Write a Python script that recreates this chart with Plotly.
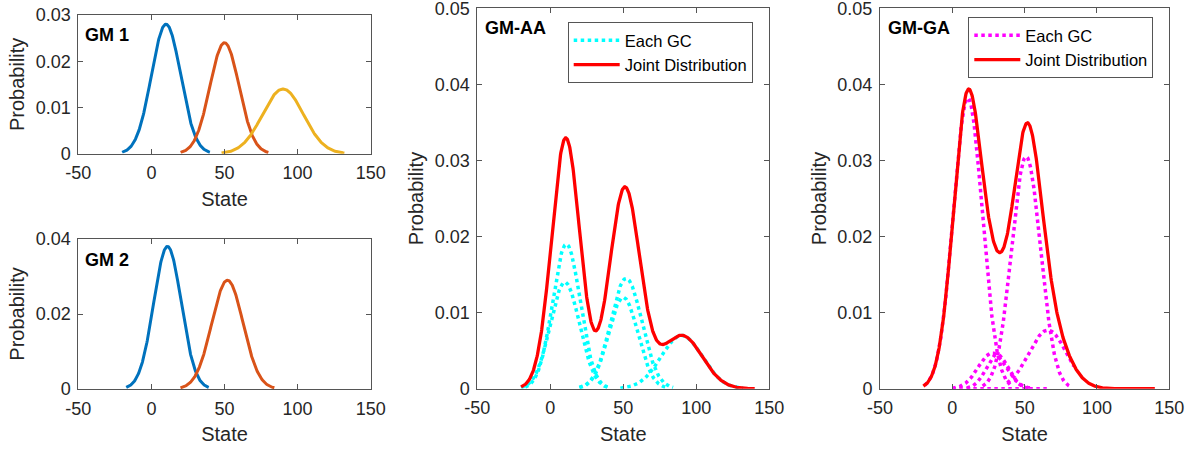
import numpy as np
import plotly.graph_objects as go

# ---------------------------------------------------------------
# Gaussian-mixture parameters (mean, standard deviation, peak density)
# ---------------------------------------------------------------
GM1_MEAN = [10, 50, 90]
GM1_SIGMA = [10, 10, 14]
GM1_PEAK = [0.028, 0.024, 0.014]

GM2_MEAN = [11, 52]
GM2_SIGMA = [9.4, 10.7]
GM2_PEAK = [0.038, 0.029]

# arithmetic-average fusion: each source mixture weighted equally
AA_WEIGHTS = [0.5, 0.5]

# geometric-average fusion components and the state range each one is drawn over
GA_MEAN = [10.7, 27.5, 31, 35, 51, 66]
GA_SIGMA = [10, 9.5, 7.5, 11, 10, 13]
GA_PEAK = [0.0382, 0.0047, 0.0045, 0.00004, 0.0305, 0.0077]
GA_LO = [-19, 0, 10, 0, 21, 38]
GA_HI = [41, 56, 54, 66, 81, 84]

# state range of the joint densities
JOINT_RANGE = [-20, 140]

# axis ticks
X_TICKS = [-50, 0, 50, 100, 150]
X_TICK_TEXT = ["-50", "0", "50", "100", "150"]
Y_TICKS_GM1 = [0, 0.01, 0.02, 0.03]
Y_TICKS_GM2 = [0, 0.02, 0.04]
Y_TICKS_FUSED = [0, 0.01, 0.02, 0.03, 0.04, 0.05]

MIX_COLORS = ["#0072BD", "#D95319", "#EDB120"]
AA_COLOR = "#00FFFF"
GA_COLOR = "#FF00FF"
JOINT_COLOR = "#FF0000"
TEXT_COLOR = "#262626"
LINE_COLOR = "#555555"
FONT = "Liberation Sans, Arial, Helvetica, sans-serif"

W, H = 1192, 450


def gauss(x, mu, sigma, peak):
    return peak * np.exp(-0.5 * ((x - mu) / sigma) ** 2)


def support(mu, sigma, n=240):
    return np.linspace(mu - 3 * sigma, mu + 3 * sigma, n)


fig = go.Figure()

# --- GM 1 and GM 2 panels -------------------------------------------------
for (means, sigmas, peaks, ax) in [(GM1_MEAN, GM1_SIGMA, GM1_PEAK, "1"),
                                   (GM2_MEAN, GM2_SIGMA, GM2_PEAK, "2")]:
    for i, (mu, sd, pk) in enumerate(zip(means, sigmas, peaks)):
        xs = support(mu, sd)
        fig.add_trace(go.Scatter(
            x=xs, y=gauss(xs, mu, sd, pk), mode="lines",
            line=dict(color=MIX_COLORS[i], width=3),
            xaxis="x" + ("" if ax == "1" else ax), yaxis="y" + ("" if ax == "1" else ax),
            showlegend=False, hoverinfo="skip"))

# --- GM-AA panel ------------------------------------------------------------
xj = np.linspace(JOINT_RANGE[0], JOINT_RANGE[1], 600)
aa_joint = np.zeros_like(xj)
first = True
for w, (means, sigmas, peaks) in zip(AA_WEIGHTS, [(GM1_MEAN, GM1_SIGMA, GM1_PEAK),
                                                  (GM2_MEAN, GM2_SIGMA, GM2_PEAK)]):
    for mu, sd, pk in zip(means, sigmas, peaks):
        xs = support(mu, sd)
        fig.add_trace(go.Scatter(
            x=xs, y=gauss(xs, mu, sd, w * pk), mode="lines",
            line=dict(color=AA_COLOR, width=3.5, dash="dot"),
            xaxis="x3", yaxis="y3", name="Each GC", legend="legend",
            showlegend=first, hoverinfo="skip"))
        first = False
        aa_joint += gauss(xj, mu, sd, w * pk)

fig.add_trace(go.Scatter(
    x=xj, y=aa_joint, mode="lines", line=dict(color=JOINT_COLOR, width=3.3),
    xaxis="x3", yaxis="y3", name="Joint Distribution", legend="legend",
    hoverinfo="skip"))

# --- GM-GA panel ------------------------------------------------------------
ga_joint = np.zeros_like(xj)
for i, (mu, sd, pk, lo, hi) in enumerate(zip(GA_MEAN, GA_SIGMA, GA_PEAK, GA_LO, GA_HI)):
    xs = np.linspace(lo, hi, 240)
    fig.add_trace(go.Scatter(
        x=xs, y=gauss(xs, mu, sd, pk), mode="lines",
        line=dict(color=GA_COLOR, width=3.5, dash="dot"),
        xaxis="x4", yaxis="y4", name="Each GC", legend="legend2",
        showlegend=(i == 0), hoverinfo="skip"))
    ga_joint += gauss(xj, mu, sd, pk)

fig.add_trace(go.Scatter(
    x=xj, y=ga_joint, mode="lines", line=dict(color=JOINT_COLOR, width=3.3),
    xaxis="x4", yaxis="y4", name="Joint Distribution", legend="legend2",
    hoverinfo="skip"))


# --- axes -----------------------------------------------------------------
def xdom(left, right):
    return [left / W, right / W]


def ydom(top, bottom):
    return [1 - bottom / H, 1 - top / H]


axis_common = dict(
    showline=True, linecolor=LINE_COLOR, linewidth=1, mirror="ticks",
    ticks="inside", ticklen=5, tickwidth=1, tickcolor=LINE_COLOR,
    showgrid=False, zeroline=False, automargin=False,
    tickfont=dict(family=FONT, size=18, color=TEXT_COLOR),
    ticklabelstandoff=3, ticklabeloverflow="allow",
)

panels = [
    ("", xdom(78.3, 370.7), ydom(15, 153.7), [0, 0.03], Y_TICKS_GM1),
    ("2", xdom(78.3, 370.7), ydom(239, 389), [0, 0.04], Y_TICKS_GM2),
    ("3", xdom(477.3, 769.3), ydom(8.3, 388.7), [0, 0.05], Y_TICKS_FUSED),
    ("4", xdom(880, 1169.3), ydom(8.3, 388.7), [0, 0.05], Y_TICKS_FUSED),
]

layout_axes = {}
for suf, xd, yd, yr, yt in panels:
    layout_axes["xaxis" + suf] = dict(
        axis_common, domain=xd, range=[-50, 150], anchor="y" + suf,
        tickvals=X_TICKS, ticktext=X_TICK_TEXT,
        title=dict(text="State", font=dict(family=FONT, size=20, color=TEXT_COLOR),
                   standoff=9))
    layout_axes["yaxis" + suf] = dict(
        axis_common, domain=yd, range=yr, anchor="x" + suf,
        tickvals=yt, ticktext=[("0" if v == 0 else f"{v:g}") for v in yt],
        title=dict(text="Probability", font=dict(family=FONT, size=20, color=TEXT_COLOR),
                   standoff=5))

legend_common = dict(
    bgcolor="white", bordercolor=LINE_COLOR, borderwidth=1,
    font=dict(family=FONT, size=16.5, color="#000000"),
    xanchor="left", yanchor="top", tracegroupgap=0, itemwidth=46,
)

fig.update_layout(
    template="none",
    width=W, height=H,
    margin=dict(l=0, r=0, t=0, b=0, autoexpand=False),
    paper_bgcolor="white", plot_bgcolor="white",
    font=dict(family=FONT, color=TEXT_COLOR),
    legend=dict(legend_common, x=567.7 / W, y=1 - 22 / H),
    legend2=dict(legend_common, x=968.3 / W, y=1 - 17 / H),
    **layout_axes,
)

# panel labels
for text, px, py in [("GM 1", 83.3, 35), ("GM 2", 83.3, 260),
                     ("GM-AA", 482.7, 28.3), ("GM-GA", 886, 28.3)]:
    fig.add_annotation(
        text=f"<b>{text}</b>", xref="paper", yref="paper",
        x=px / W, y=1 - py / H, xanchor="left", yanchor="middle",
        showarrow=False, font=dict(family=FONT, size=18, color="#000000"))

fig.write_html("out.html")
